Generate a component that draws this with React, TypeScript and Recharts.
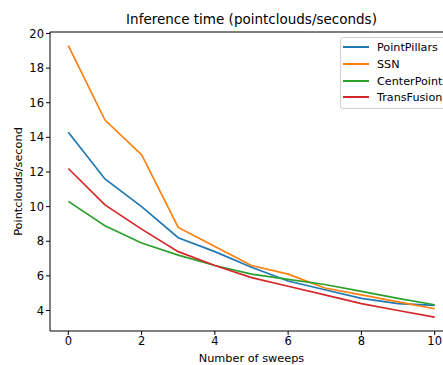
import { LineChart, Line, XAxis, YAxis, ReferenceLine } from 'recharts';

const sweeps = [0, 1, 2, 3, 4, 5, 6, 7, 8, 9, 10];
const pointPillars = [14.3, 11.6, 10.0, 8.2, 7.4, 6.5, 5.7, 5.2, 4.7, 4.4, 4.3];
const ssn = [19.3, 15.0, 13.0, 8.8, 7.7, 6.6, 6.1, 5.3, 4.9, 4.5, 4.1];
const centerPoint = [10.3, 8.9, 7.9, 7.2, 6.6, 6.1, 5.8, 5.5, 5.1, 4.7, 4.33];
const transFusion = [12.2, 10.1, 8.7, 7.4, 6.6, 5.9, 5.4, 4.9, 4.4, 4.0, 3.62];
const xTicks = [0, 2, 4, 6, 8, 10];
const yTicks = [4, 6, 8, 10, 12, 14, 16, 18, 20];

const series = [
    { key: 'pointPillars', name: 'PointPillars', color: '#1f77b4', values: pointPillars },
    { key: 'ssn', name: 'SSN', color: '#ff7f0e', values: ssn },
    { key: 'centerPoint', name: 'CenterPoint', color: '#2ca02c', values: centerPoint },
    { key: 'transFusion', name: 'TransFusion', color: '#d62728', values: transFusion },
];

const data = sweeps.map((x, i) => {
    const row: Record<string, number> = { x };
    series.forEach(s => { row[s.key] = s.values[i]; });
    return row;
});

const FONT = '"DejaVu Sans", sans-serif';
const Y_MIN = 2.815;
const Y_MAX = 20.085;

export default function App() {
    return (
        <div style={{ position: 'absolute', left: 0, top: 0, width: 443, height: 365, overflow: 'hidden', background: '#fff', fontFamily: FONT }}>
            <div style={{ position: 'absolute', left: 0, width: 503, top: 10, textAlign: 'center', fontSize: 13.5, lineHeight: '18px', color: '#000' }}>
                Inference time (pointclouds/seconds)
            </div>
            <LineChart
                width={460}
                height={365}
                data={data}
                margin={{ top: 32, right: 7, left: 0, bottom: 0 }}
                style={{ fontFamily: FONT }}
            >
                <XAxis
                    dataKey="x"
                    type="number"
                    domain={[-0.5, 10.5]}
                    ticks={xTicks}
                    height={34}
                    tickSize={4}
                    tick={{ fontSize: 11.5, fill: '#000' }}
                    axisLine={{ stroke: '#000' }}
                    tickLine={{ stroke: '#000' }}
                    label={{ value: 'Number of sweeps', position: 'insideBottom', offset: 3, fontSize: 11.3, fill: '#000' }}
                />
                <YAxis
                    type="number"
                    domain={[Y_MIN, Y_MAX]}
                    ticks={yTicks}
                    width={50}
                    tickSize={4}
                    tick={{ fontSize: 11.5, fill: '#000' }}
                    axisLine={{ stroke: '#000' }}
                    tickLine={{ stroke: '#000' }}
                    allowDataOverflow
                    label={{ value: 'Pointclouds/second', angle: -90, position: 'insideLeft', offset: 18, fontSize: 11.3, fill: '#000', style: { textAnchor: 'middle' } }}
                />
                <ReferenceLine y={Y_MAX} stroke="#000" />
                <ReferenceLine x={10.5} stroke="#000" />
                {series.map(s => (
                    <Line
                        key={s.key}
                        type="linear"
                        dataKey={s.key}
                        name={s.name}
                        stroke={s.color}
                        strokeWidth={1.7}
                        dot={false}
                        isAnimationActive={false}
                    />
                ))}
            </LineChart>
            <div style={{ position: 'absolute', left: 340, top: 37, width: 110, height: 70, border: '1px solid #d0d0d0', borderRadius: 3, background: 'rgba(255,255,255,0.8)', fontSize: 11.2, color: '#000' }}>
                {series.map((s, i) => (
                    <div key={s.key} style={{ position: 'absolute', left: 2, top: 1 + Math.round(i * 16.8), height: 16, display: 'flex', alignItems: 'center' }}>
                        <div style={{ width: 26, height: 2, background: s.color }} />
                        <span style={{ marginLeft: 8, whiteSpace: 'nowrap' }}>{s.name}</span>
                    </div>
                ))}
            </div>
        </div>
    );
}
